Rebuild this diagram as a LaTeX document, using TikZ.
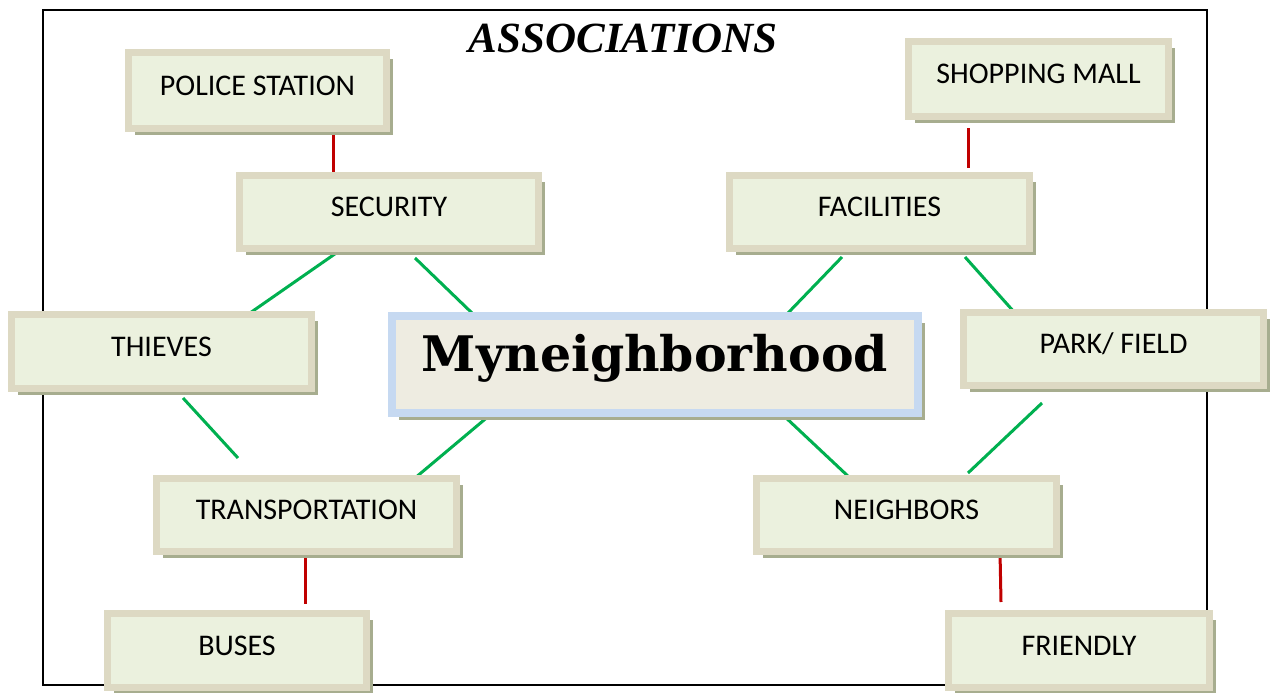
\documentclass[tikz,border=0pt]{standalone}
\usepackage{fontspec}
\setmainfont{Carlito}
\newfontfamily\titlefont{Liberation Serif}
\newfontfamily\hoodfont{DejaVu Serif}
\usetikzlibrary{shadows,backgrounds}
\definecolor{boxedge}{HTML}{DDD9C3}
\definecolor{boxfill}{HTML}{EBF1DE}
\definecolor{boxshade}{HTML}{A7AD8F}
\definecolor{hoodedge}{HTML}{C6D9F1}
\definecolor{hoodfill}{HTML}{EEECE1}
\definecolor{linkred}{HTML}{C00000}
\definecolor{linkgreen}{HTML}{00B050}

\begin{document}
\begin{tikzpicture}[x=1pt,y=-1pt,font=\fontsize{30}{34}\selectfont,
  word/.style={draw=boxedge,line width=7pt,fill=boxfill,inner sep=0pt,
    text height=1.05em,text depth=0.1em,
    drop shadow={shadow xshift=6.5pt,shadow yshift=-6.5pt,fill=boxshade,opacity=1}},
  redlink/.style={linkred,line width=3pt},
  greenlink/.style={linkgreen,line width=3pt}]
\useasboundingbox (0,0) rectangle (1274,693);
\node[word,minimum width=258pt,minimum height=76pt] (police) at (257.5,90.5) {POLICE STATION};
\node[word,minimum width=260pt,minimum height=75pt] (mall) at (1038.5,79) {SHOPPING MALL};
\node[word,minimum width=299pt,minimum height=73pt] (security) at (389,212) {SECURITY};
\node[word,minimum width=300pt,minimum height=73pt] (facilities) at (879.5,212) {FACILITIES};
\node[word,minimum width=300pt,minimum height=74pt] (thieves) at (161.5,351.5) {THIEVES};
\node[word,draw=hoodedge,line width=8pt,fill=hoodfill,minimum width=526pt,minimum height=97pt,
  text height=1.3em,text depth=0pt,font=\hoodfont\bfseries\fontsize{49}{55}\selectfont] (hood) at (655,364.5) {Myneighborhood};
\node[word,minimum width=300pt,minimum height=73pt] (park) at (1113.5,349) {PARK/ FIELD};
\node[word,minimum width=300pt,minimum height=73pt] (transport) at (306.5,515) {TRANSPORTATION};
\node[word,minimum width=300pt,minimum height=73pt] (neighbors) at (906.5,515) {NEIGHBORS};
\node[word,minimum width=259pt,minimum height=74pt] (buses) at (237,650.5) {BUSES};
\node[word,minimum width=261pt,minimum height=74pt] (friendly) at (1079,650.5) {FRIENDLY};
\node[font=\titlefont\bfseries\itshape\fontsize{43}{49}\selectfont] (title) at (623,38) {ASSOCIATIONS};
\begin{scope}[on background layer]
\draw[line width=2pt] (43,10) rectangle (1207,685);
% links to the outer words
\draw[redlink] ([xshift=75.5pt]police.south) -- ([xshift=-56pt]security.north);
\draw[redlink] ([xshift=-70.5pt,yshift=-8pt]mall.south) -- ([xshift=88.5pt,yshift=4pt]facilities.north);
\draw[redlink] ([xshift=-1.5pt,yshift=3pt]transport.south) -- ([xshift=68pt,yshift=6pt]buses.north);
\draw[redlink] ([xshift=93.5pt,yshift=3pt]neighbors.south) -- ([xshift=-78pt,yshift=8pt]friendly.north);
% links round the centre
\draw[greenlink] ([xshift=-47pt,yshift=3pt]security.south) -- ([xshift=88.5pt,yshift=-2pt]thieves.north);
\draw[greenlink] ([xshift=26pt,yshift=-6pt]security.south) -- ([xshift=-183pt,yshift=-1pt]hood.north);
\draw[greenlink] ([xshift=-37.5pt,yshift=-5pt]facilities.south) -- ([xshift=133pt,yshift=-1pt]hood.north);
\draw[greenlink] ([xshift=85.5pt,yshift=-5pt]facilities.south) -- ([xshift=-98.5pt,yshift=-4pt]park.north);
\draw[greenlink] ([xshift=21.5pt,yshift=-6pt]thieves.south) -- ([xshift=-68.5pt,yshift=17pt]transport.north);
\draw[greenlink] ([xshift=-71.5pt,yshift=-14pt]park.south) -- ([xshift=61.5pt,yshift=2pt]neighbors.north);
\draw[greenlink] ([xshift=-165pt,yshift=2pt]hood.south) -- ([xshift=108.5pt,yshift=-3pt]transport.north);
\draw[greenlink] ([xshift=128pt,yshift=2pt]hood.south) -- ([xshift=-56.5pt,yshift=-3pt]neighbors.north);
\end{scope}
\end{tikzpicture}
\end{document}
